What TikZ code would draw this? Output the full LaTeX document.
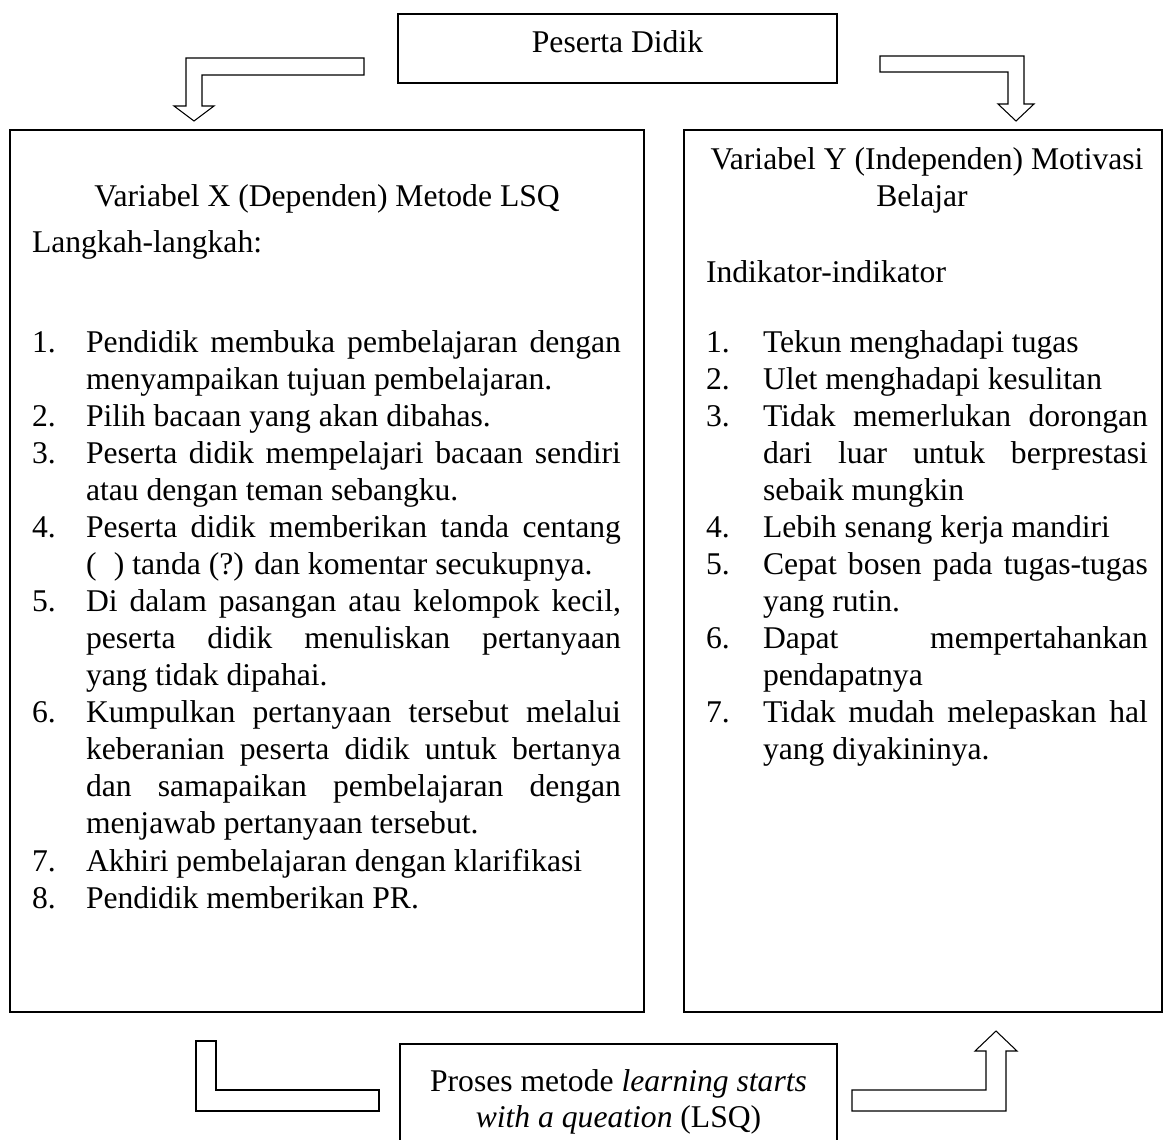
\documentclass[tikz,border=0pt]{standalone}
\usepackage{fontspec}
\setmainfont{Liberation Serif}
\newcommand\jline[1]{\hbox to \hsize{#1}}
\newcommand\nline[1]{\hbox{#1}}
\newcommand\lblock[1]{\vtop{\hsize=10.7cm #1}}
\newcommand\rblock[1]{\vtop{\hsize=7.7cm #1}}
\begin{document}
\begin{tikzpicture}[x=0.02cm, y=-0.02cm,
  every node/.style={inner sep=0pt, outer sep=0pt},
  txt/.style={font=\fontsize{18}{21.1}\selectfont},
  box/.style={draw, line width=0.7pt, rectangle},
  blockarrow/.style={draw, line width=0.6pt, fill=white, line join=miter},
  litem/.style={txt, anchor=base west},
  ritem/.style={txt, anchor=base west},
  num/.style={txt, anchor=base west},
  ctext/.style={txt, anchor=base}]
\clip (0,0) rectangle (1165,1139);
% boxes
\node[box, minimum width=8.78cm, minimum height=1.38cm] (peserta) at (617.5,48.5) {};
\node[box, minimum width=12.68cm, minimum height=17.64cm] (boxX) at (327,571) {};
\node[box, minimum width=9.56cm, minimum height=17.64cm] (boxY) at (923,571) {};
\node[box, minimum width=8.74cm, minimum height=2.32cm] (proses) at (618.5,1102) {};
% top text
\node[ctext] (pesertaT) at (617.5,52) {Peserta Didik};
% left box
\node[ctext] (titleX) at (327,206) {Variabel X (Dependen) Metode LSQ};
\node[num] (langkah) at (32,252) {Langkah-langkah:};
\node[num] (n1) at (32,352) {1.};
\node[litem] (i1) at (86,352) {\lblock{\jline{Pendidik membuka pembelajaran dengan}\nline{menyampaikan tujuan pembelajaran.}}};
\node[num] (n2) at (32,426.1) {2.};
\node[litem] (i2) at (86,426.1) {Pilih bacaan yang akan dibahas.};
\node[num] (n3) at (32,463.2) {3.};
\node[litem] (i3) at (86,463.2) {\lblock{\jline{Peserta didik mempelajari bacaan sendiri}\nline{atau dengan teman sebangku.}}};
\node[num] (n4) at (32,537.4) {4.};
\node[litem] (i4) at (86,537.4) {\lblock{\jline{Peserta didik memberikan tanda centang}\nline{(\hspace{0.55em}) tanda (?) dan komentar secukupnya.}}};
\node[num] (n5) at (32,611.5) {5.};
\node[litem] (i5) at (86,611.5) {\lblock{\jline{Di dalam pasangan atau kelompok kecil,}\jline{peserta didik menuliskan pertanyaan}\nline{yang tidak dipahai.}}};
\node[num] (n6) at (32,722.7) {6.};
\node[litem] (i6) at (86,722.7) {\lblock{\jline{Kumpulkan pertanyaan tersebut melalui}\jline{keberanian peserta didik untuk bertanya}\jline{dan samapaikan pembelajaran dengan}\nline{menjawab pertanyaan tersebut.}}};
\node[num] (n7) at (32,871) {7.};
\node[litem] (i7) at (86,871) {Akhiri pembelajaran dengan klarifikasi};
\node[num] (n8) at (32,908.1) {8.};
\node[litem] (i8) at (86,908.1) {Pendidik memberikan PR.};
% right box
\node[ctext] (titleY1) at (927,169) {Variabel Y (Independen) Motivasi};
\node[ctext] (titleY2) at (922,206) {Belajar};
\node[num] (indikator) at (706,282) {Indikator-indikator};
\node[num] (m1) at (706,352) {1.};
\node[ritem] (j1) at (763,352) {Tekun menghadapi tugas};
\node[num] (m2) at (706,389.1) {2.};
\node[ritem] (j2) at (763,389.1) {Ulet menghadapi kesulitan};
\node[num] (m3) at (706,426.1) {3.};
\node[ritem] (j3) at (763,426.1) {\rblock{\jline{Tidak memerlukan dorongan}\jline{dari luar untuk berprestasi}\nline{sebaik mungkin}}};
\node[num] (m4) at (706,537.4) {4.};
\node[ritem] (j4) at (763,537.4) {Lebih senang kerja mandiri};
\node[num] (m5) at (706,574.4) {5.};
\node[ritem] (j5) at (763,574.4) {\rblock{\jline{Cepat bosen pada tugas-tugas}\nline{yang rutin.}}};
\node[num] (m6) at (706,648.6) {6.};
\node[ritem] (j6) at (763,648.6) {\rblock{\jline{Dapat mempertahankan}\nline{pendapatnya}}};
\node[num] (m7) at (706,722.7) {7.};
\node[ritem] (j7) at (763,722.7) {\rblock{\jline{Tidak mudah melepaskan hal}\nline{yang diyakininya.}}};
% bottom text
\node[ctext] (prosesT1) at (618.5,1091) {Proses metode \textit{learning starts}};
\node[ctext] (prosesT2) at (618.5,1127) {\textit{with a queation} (LSQ)};
% block arrows
\draw[blockarrow] (364,58) -- (186,58) -- (186,106) -- (174,106) -- (194,121) -- (214,106) -- (202,106) -- (202,75) -- (364,75) -- cycle;
\draw[blockarrow] (880,56) -- (1024,56) -- (1024,104) -- (1034,104) -- (1016,121) -- (998,104) -- (1008,104) -- (1008,72) -- (880,72) -- cycle;
\draw[blockarrow] (196,1041) -- (216,1041) -- (216,1090) -- (379,1090) -- (379,1111) -- (196,1111) -- cycle;
\draw[blockarrow] (852,1090) -- (986,1090) -- (986,1051) -- (975,1051) -- (996,1031) -- (1017,1051) -- (1006,1051) -- (1006,1111) -- (852,1111) -- cycle;
\end{tikzpicture}
\end{document}
